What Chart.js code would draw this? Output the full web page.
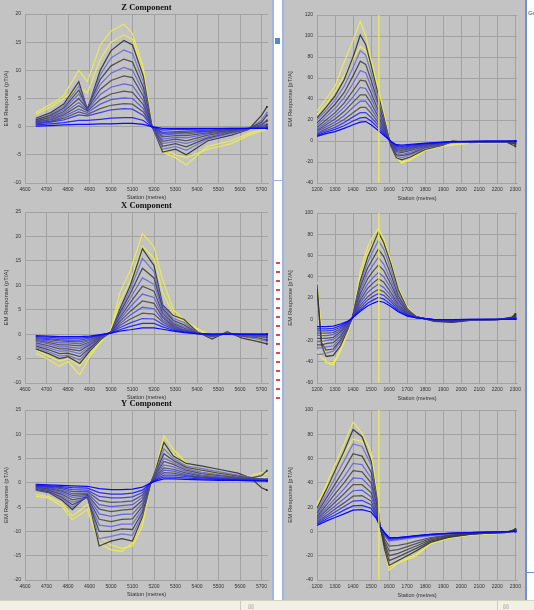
<!DOCTYPE html>
<html>
<head>
<meta charset="utf-8">
<script src="https://cdn.jsdelivr.net/npm/chart.js@4.4.1/dist/chart.umd.min.js"></script>
<style>
  html, body { margin:0; padding:0; }
  body { width:534px; height:610px; position:relative; overflow:hidden; background:#f3f1e4; font-family:"Liberation Sans", Arial, sans-serif; }
  .panel { position:absolute; background:#c3c3c3; }
  .chart { position:absolute; }
  .chart canvas { display:block; }
</style>
</head>
<body>
<div class="panel" style="left:0;top:0;width:272px;height:600px;"></div>
<div class="panel" style="left:284px;top:0;width:241px;height:600px;"></div>
<div style="position:absolute;left:272px;top:0;width:12px;height:600px;background:#ffffff;box-sizing:border-box;border-left:2px solid #9db6e2;border-right:2px solid #9db6e2;"></div>
<div style="position:absolute;left:275px;top:38px;width:5px;height:6px;background:#5a84cc;"></div>
<div style="position:absolute;left:274px;top:180px;width:8px;height:1px;background:#9db6e2;"></div>
<div style="position:absolute;left:276px;top:262px;width:4px;height:140px;background:repeating-linear-gradient(to bottom,#e04848 0px,#e04848 2px,transparent 2px,transparent 9px);"></div>
<div style="position:absolute;left:525px;top:0;width:9px;height:600px;background:#ffffff;box-sizing:border-box;border-left:2px solid #6f90d8;"></div>
<div style="position:absolute;left:527px;top:572px;width:7px;height:1px;background:#6f90d8;"></div>
<div style="position:absolute;left:528px;top:10px;font-size:6px;color:#444;">Gr</div>
<div style="position:absolute;left:0;top:600px;width:534px;height:10px;background:#f3f1e4;border-top:1px solid #d6d3c4;"></div>
<div style="position:absolute;left:240px;top:601px;width:1px;height:9px;background:#cfcabb;"></div>
<div style="position:absolute;left:497px;top:601px;width:1px;height:9px;background:#cfcabb;"></div>
<div style="position:absolute;left:248px;top:603px;font-size:5px;color:#555;">▯▯</div>
<div style="position:absolute;left:503px;top:603px;font-size:5px;color:#555;">▯▯</div>

<div class="chart" style="left:0;top:0;width:272px;height:202px"><canvas id="cz"></canvas></div>
<div class="chart" style="left:0;top:198px;width:272px;height:204px"><canvas id="cx"></canvas></div>
<div class="chart" style="left:0;top:396px;width:272px;height:203px"><canvas id="cy"></canvas></div>
<div class="chart" style="left:284px;top:0;width:241px;height:203px"><canvas id="r1"></canvas></div>
<div class="chart" style="left:284px;top:198px;width:241px;height:205px"><canvas id="r2"></canvas></div>
<div class="chart" style="left:284px;top:395px;width:241px;height:205px"><canvas id="r3"></canvas></div>

<script>
// ---------- tick labels ----------
const leftXTicks = [4600, 4700, 4800, 4900, 5000, 5100, 5200, 5300, 5400, 5500, 5600, 5700];
const rightXTicks = [1200, 1300, 1400, 1500, 1600, 1700, 1800, 1900, 2000, 2100, 2200, 2300];
const zYTicks = [20, 15, 10, 5, 0, -5, -10];
const xYTicks = [25, 20, 15, 10, 5, 0, -5, -10];
const yYTicks = [15, 10, 5, 0, -5, -10, -15, -20];
const r1YTicks = [120, 100, 80, 60, 40, 20, 0, -20, -40];
const r2YTicks = [100, 80, 60, 40, 20, 0, -20, -40, -60];
const r3YTicks = [100, 80, 60, 40, 20, 0, -20, -40];
const markerStation = 1543;

// ---------- Z component ----------
const zStations = [4650, 4720, 4780, 4850, 4890, 4950, 5000, 5060, 5100, 5150, 5190, 5240, 5300, 5350, 5450, 5560, 5640, 5700, 5725];
const zYellowOuter = [2.5, 4, 5.5, 10, 8, 14.5, 17, 18.2, 16.5, 10.5, 0.5, -4.5, -5.5, -6.8, -3.5, -2.5, -1.2, -0.5, -0.4];
const zYellowInner = [2.2, 3.5, 5, 7, 6, 12, 15, 16.3, 15.5, 9.5, 0.3, -4, -5, -5.5, -4, -3, -1.5, -0.8, -0.5];
const zFamily = [
  [1.5, 2.5, 4, 8, 3, 10, 13.5, 15.3, 14.5, 9, 0.2, -4.5, -4, -5, -2.5, -1.5, -0.5, 2, 3.5],
  [1.2, 2.2, 3.6, 7.2, 3.2, 9.2, 12.2, 13.6, 13, 8, 0.1, -4, -3.5, -4.2, -2.2, -1.2, -0.5, 1.2, 2.5],
  [1.2, 2, 3.3, 6.5, 3.2, 8.4, 10.8, 12, 11.5, 7, 0.1, -3.5, -3, -3.6, -2, -1, -0.4, 0.8, 2],
  [1, 1.8, 3, 5.8, 3.3, 7.5, 9.5, 10.5, 10, 6.2, 0, -3, -2.6, -3, -1.8, -0.9, -0.4, 0.5, 1.2],
  [1, 1.6, 2.7, 5, 3.2, 6.6, 8.2, 9, 8.7, 5.4, 0, -2.6, -2.2, -2.5, -1.5, -0.8, -0.3, 0.3, 1],
  [0.9, 1.4, 2.4, 4.3, 3, 5.7, 7, 7.6, 7.3, 4.6, 0, -2.2, -1.9, -2, -1.3, -0.7, -0.3, 0.2, 0.5],
  [0.8, 1.2, 2.1, 3.7, 2.8, 4.8, 5.8, 6.3, 6.1, 3.9, 0, -1.8, -1.6, -1.6, -1.1, -0.6, -0.3, 0, 0.3],
  [0.7, 1, 1.8, 3.1, 2.5, 4, 4.8, 5.1, 5, 3.2, 0, -1.5, -1.3, -1.3, -0.9, -0.5, -0.3, -0.1, 0],
  [0.6, 0.9, 1.5, 2.6, 2.2, 3.2, 3.8, 4.1, 4, 2.6, 0, -1.2, -1.1, -1, -0.8, -0.5, -0.3, -0.2, -0.1],
  [0.5, 0.8, 1.2, 2.1, 1.9, 2.5, 3, 3.2, 3.1, 2, 0, -1, -0.9, -0.8, -0.6, -0.4, -0.3, -0.3, -0.2],
  [0.3, 0.5, 0.7, 1.1, 1.1, 1.3, 1.5, 1.6, 1.6, 1.1, 0, -0.6, -0.5, -0.5, -0.4, -0.3, -0.3, -0.3, -0.3],
  [0.1, 0.2, 0.3, 0.4, 0.4, 0.5, 0.5, 0.6, 0.6, 0.4, 0, -0.3, -0.3, -0.3, -0.3, -0.3, -0.3, -0.3, -0.3]
];

// ---------- X component ----------
const xStations = [4650, 4710, 4760, 4800, 4855, 4900, 4950, 5000, 5040, 5090, 5146, 5200, 5240, 5290, 5340, 5400, 5470, 5540, 5610, 5680, 5725];
const xYellowOuter = [-3.9, -5.2, -6.6, -5.6, -8.3, -4.6, -1.8, 0.9, 8.4, 13.1, 20.6, 17.9, 11.1, 5, 2.9, 1.2, -0.5, 0.3, -0.5, -1.2, -0.5];
const xYellowInner = [-3.2, -4.5, -5.5, -5, -6.5, -4, -1.5, 1, 6.5, 11, 18, 15.5, 8.5, 4, 2.5, 1, -0.3, 0.2, -0.3, -0.8, -0.3];
const xFamily = [
  [-3, -4, -5, -4.6, -6, -3.5, -1.2, 0.5, 5, 10, 17.5, 14, 6, 3.8, 3, 0.5, -1, 0.5, -0.8, -1.5, -2],
  [-2.7, -3.6, -4.5, -4.3, -5.3, -3.2, -1, 0.5, 4.6, 9.2, 15.5, 12.8, 5.6, 3.2, 2.4, 0.4, -0.6, 0.3, -0.5, -1, -1.5],
  [-2.4, -3.2, -4, -3.9, -4.6, -2.9, -0.9, 0.5, 4.2, 8.3, 13.5, 11.5, 5.2, 2.8, 1.9, 0.3, -0.5, 0.2, -0.4, -0.7, -1.2],
  [-2.1, -2.8, -3.5, -3.4, -4, -2.6, -0.8, 0.5, 3.8, 7.4, 11.5, 10.2, 4.8, 2.4, 1.5, 0.3, -0.4, 0.1, -0.3, -0.5, -0.8],
  [-1.8, -2.4, -3, -3, -3.4, -2.2, -0.7, 0.5, 3.3, 6.5, 9.8, 8.8, 4.3, 2.1, 1.2, 0.2, -0.3, 0.1, -0.2, -0.4, -0.6],
  [-1.5, -2, -2.6, -2.6, -2.9, -1.9, -0.6, 0.4, 2.9, 5.6, 8.2, 7.5, 3.8, 1.8, 1, 0.2, -0.2, 0, -0.2, -0.3, -0.4],
  [-1.3, -1.7, -2.2, -2.2, -2.4, -1.6, -0.5, 0.4, 2.5, 4.7, 6.8, 6.3, 3.4, 1.6, 0.8, 0.2, -0.2, 0, -0.1, -0.2, -0.3],
  [-1.1, -1.4, -1.8, -1.8, -2, -1.3, -0.4, 0.3, 2.1, 3.9, 5.5, 5.2, 2.9, 1.4, 0.7, 0.1, -0.1, 0, -0.1, -0.2, -0.2],
  [-0.9, -1.1, -1.4, -1.5, -1.6, -1.1, -0.3, 0.3, 1.7, 3.1, 4.3, 4.1, 2.5, 1.2, 0.6, 0.1, -0.1, 0, -0.1, -0.1, -0.1],
  [-0.7, -0.9, -1.1, -1.2, -1.2, -0.8, -0.2, 0.3, 1.3, 2.3, 3.2, 3.1, 2, 1, 0.5, 0.1, -0.1, 0, 0, -0.1, -0.1],
  [-0.5, -0.6, -0.8, -0.8, -0.8, -0.6, -0.2, 0.2, 0.9, 1.6, 2.2, 2.2, 1.5, 0.8, 0.4, 0.1, 0, 0, 0, 0, 0],
  [-0.3, -0.4, -0.5, -0.5, -0.5, -0.4, -0.1, 0.2, 0.6, 0.9, 1.3, 1.3, 1, 0.6, 0.3, 0.1, 0, 0, 0, 0, 0]
];

// ---------- Y component ----------
const yStations = [4650, 4710, 4770, 4820, 4890, 4945, 5000, 5050, 5100, 5146, 5185, 5210, 5246, 5290, 5350, 5420, 5500, 5590, 5650, 5700, 5725];
const yYellowOuter = [-2.8, -3.1, -4.8, -7.6, -5.5, -12.4, -13.8, -14.1, -12.4, -7.6, 0, 3.4, 9.7, 6.9, 4.1, 2.4, 2.1, 1, 1.5, 2.1, 1.7];
const yYellowInner = [-2.4, -2.8, -4.2, -6.8, -4.5, -11, -12.8, -13.5, -13, -9, 0, 2.8, 8, 6, 3.5, 2.5, 1.8, 1.2, 0.8, 1.2, 1];
const yFamily = [
  [-1.5, -2, -3.5, -5.5, -2.5, -13, -12, -11.5, -12, -7, 0, 3, 8.3, 5.5, 4, 3.5, 2.8, 2, 1, -1, -1.5],
  [-1.4, -1.9, -3.2, -5, -2.8, -11.5, -11, -10.5, -10.8, -6.5, 0, 2.6, 7, 5, 3.5, 3, 2.3, 1.6, 1.2, 0.5, 0.5],
  [-1.3, -1.8, -2.9, -4.5, -3, -10, -10, -9.5, -9.6, -6, 0, 2.3, 6, 4.6, 3.2, 2.6, 2, 1.4, 1, 1.5, 2.5],
  [-1.2, -1.6, -2.6, -4, -3, -8.7, -9, -8.5, -8.5, -5.4, 0, 2, 5.1, 4.2, 2.9, 2.2, 1.7, 1.2, 0.9, 0.8, 0.8],
  [-1.1, -1.5, -2.3, -3.5, -2.9, -7.5, -8, -7.5, -7.4, -4.8, 0, 1.8, 4.4, 3.8, 2.6, 1.9, 1.5, 1.1, 0.8, 0.8, 0.7],
  [-1, -1.3, -2, -3, -2.7, -6.4, -6.9, -6.5, -6.4, -4.2, 0, 1.6, 3.7, 3.3, 2.3, 1.6, 1.3, 1, 0.7, 0.7, 0.7],
  [-0.9, -1.2, -1.7, -2.6, -2.4, -5.4, -5.9, -5.6, -5.4, -3.6, 0, 1.4, 3.1, 2.8, 2, 1.4, 1.1, 0.9, 0.7, 0.6, 0.6],
  [-0.8, -1, -1.5, -2.2, -2.1, -4.5, -4.9, -4.7, -4.5, -3, 0, 1.2, 2.6, 2.4, 1.7, 1.2, 1, 0.8, 0.6, 0.6, 0.6],
  [-0.7, -0.9, -1.2, -1.8, -1.8, -3.6, -4, -3.9, -3.7, -2.5, 0, 1, 2.1, 2, 1.5, 1.1, 0.9, 0.7, 0.6, 0.5, 0.5],
  [-0.6, -0.7, -1, -1.4, -1.5, -2.8, -3.1, -3.1, -2.9, -2, 0, 0.8, 1.6, 1.6, 1.3, 1, 0.8, 0.6, 0.5, 0.5, 0.5],
  [-0.5, -0.6, -0.8, -1, -1.1, -2, -2.3, -2.3, -2.1, -1.5, 0, 0.6, 1.2, 1.2, 1, 0.8, 0.7, 0.6, 0.5, 0.4, 0.4],
  [-0.3, -0.4, -0.5, -0.6, -0.7, -1.2, -1.4, -1.4, -1.3, -0.9, 0, 0.4, 0.8, 0.8, 0.7, 0.6, 0.5, 0.5, 0.4, 0.4, 0.4]
];

// ---------- right top ----------
const r1Stations = [1200, 1250, 1300, 1350, 1400, 1440, 1470, 1500, 1540, 1580, 1610, 1640, 1670, 1720, 1800, 1900, 1950, 2050, 2150, 2250, 2300];
const r1YellowOuter = [28.6, 40, 52, 75, 96, 114, 100, 78, 50, 20, -5, -16, -21, -18, -9, -5, -4, -2, -1.6, -1.6, -3];
const r1YellowInner = [25, 35, 47, 62, 78, 90, 86, 70, 45, 18, -4, -15, -20, -17, -8, -4.5, -3.5, -2, -1.5, -1.5, -2];
const r1Family = [
  [22, 32, 43, 58, 80, 101, 92, 72, 44, 16, -5, -16, -18, -15, -8, -4, 0, -1.5, -1, -1, -5],
  [20, 29, 39, 52, 70, 86, 82, 65, 40, 14, -5, -14, -16, -13, -7, -3.5, -1, -1.3, -1, -1, -2],
  [17, 26, 35, 46, 62, 76, 73, 58, 36, 13, -4, -13, -14, -12, -6, -3, -0.5, -1.2, -1, -1, -3],
  [15, 23, 31, 41, 55, 67, 65, 52, 33, 12, -3, -11, -13, -10.5, -5.5, -2.7, -1, -1, -0.8, -0.8, -1],
  [13, 20, 27, 36, 48, 58, 57, 46, 29, 11, -3, -10, -11, -9, -5, -2.4, -0.5, -1, -0.8, -0.8, -2],
  [11.5, 17.5, 24, 32, 42, 51, 50, 41, 26, 10, -2, -9, -10, -8, -4.5, -2.2, -1, -0.9, -0.7, -0.7, 0],
  [10, 15.5, 21, 28, 37, 44, 44, 36, 23, 9, -2, -8, -9, -7, -4, -2, -0.8, -0.8, -0.6, -0.6, -1],
  [9, 13.5, 18, 24, 32, 38, 38, 31, 20, 8, -1.5, -7, -8, -6.2, -3.6, -1.8, -1, -0.7, -0.5, -0.5, 0],
  [7.5, 11.5, 15.5, 20.5, 27, 32, 32, 26.5, 17.5, 7, -1, -6, -7, -5.5, -3.2, -1.6, -0.9, -0.6, -0.4, -0.4, 0],
  [6.5, 10, 13, 17.5, 23, 27, 27, 22.5, 15, 6, -1, -5, -6, -4.8, -2.8, -1.4, -0.8, -0.5, -0.3, -0.3, 0],
  [5.5, 8.5, 11, 14.5, 19, 22, 22.5, 19, 12.5, 5, -0.5, -4.2, -5, -4, -2.4, -1.2, -0.7, -0.4, -0.2, -0.2, 0],
  [4.5, 7, 9, 12, 15.5, 18, 18.5, 15.5, 10, 4, -0.5, -3.5, -4, -3.2, -2, -1, -0.6, -0.3, -0.2, -0.2, 0]
];

// ---------- right middle ----------
const r2Stations = [1200, 1225, 1250, 1290, 1330, 1370, 1395, 1440, 1480, 1510, 1540, 1570, 1610, 1650, 1700, 1750, 1850, 1950, 2050, 2200, 2280, 2300];
const r2YellowOuter = [35, -10, -41, -43, -30, -13, 1, 45, 68, 78, 85, 76, 55, 30, 12, 3, -1, -1.2, -0.6, -0.6, 1, 2.5];
const r2YellowInner = [-30, -36, -40, -41, -29, -12, 1, 40, 62, 72, 80, 70, 50, 26, 10, 2, -1, -1, -0.5, -0.5, 0.5, 1];
const r2Family = [
  [33, -24, -35, -34, -25, -10, 1, 36, 58, 70, 82, 72, 52, 28, 10, 2.5, -2, -3, -1, -0.5, 2, 5],
  [-33, -33, -32, -30, -22, -9, 1, 33, 53, 64, 74, 66, 47, 25, 9, 2.5, -1.5, -2, -0.8, -0.5, 1, 2],
  [28, -22, -29, -28, -20, -8, 1, 30, 48, 57, 66, 59, 42, 22, 8, 2.5, -1.5, -2.5, -0.8, -0.3, 1.5, 4],
  [-27, -27, -26, -25, -18, -7, 1, 27, 43, 51, 58, 52, 37, 20, 7, 2.2, -1, -1.5, -0.6, -0.3, 0.5, 1],
  [-24, -24, -23, -22, -16, -6, 1, 24, 38, 45, 51, 46, 33, 18, 6.5, 2, -1, -2, -0.6, -0.2, 1, 3],
  [-21, -21, -20, -19, -14, -5, 1, 21, 33, 39, 44, 40, 29, 16, 6, 2, -0.8, -1.2, -0.5, -0.2, 0.5, 1],
  [-18, -18, -18, -17, -12, -4.5, 1, 18, 29, 34, 38, 35, 25, 14, 5.5, 2, -0.8, -1.5, -0.5, -0.2, 0.8, 2],
  [-15, -15.5, -15.5, -14.5, -10.5, -4, 1, 15.5, 25, 29.5, 33, 30, 22, 12.5, 5, 1.8, -0.6, -1, -0.4, -0.1, 0.3, 0.5],
  [-13, -13, -13, -12.5, -9, -3.5, 1, 13, 21, 25, 28, 26, 19, 11, 4.5, 1.7, -0.5, -0.8, -0.3, -0.1, 0.3, 0.5],
  [-11, -11, -11, -10.5, -7.5, -3, 1, 11, 18, 21.5, 24, 22.5, 16.5, 9.5, 4, 1.6, -0.4, -0.6, -0.3, -0.1, 0.2, 0.5],
  [-9, -9, -9, -8.5, -6, -2.5, 1, 9, 15, 18, 20.5, 19, 14, 8, 3.5, 1.5, -0.3, -0.5, -0.2, 0, 0.2, 0.3],
  [-7, -7, -7, -6.5, -4.5, -2, 1, 7.5, 12.5, 15, 17, 16, 12, 7, 3, 1.4, -0.3, -0.4, -0.2, 0, 0.2, 0.3]
];

// ---------- right bottom ----------
const r3Stations = [1200, 1250, 1300, 1350, 1400, 1450, 1500, 1530, 1550, 1575, 1600, 1650, 1700, 1750, 1830, 1930, 2050, 2150, 2250, 2300];
const r3YellowOuter = [20.7, 38, 55, 72, 90, 81, 65, 35, 7, -15, -32, -26, -23, -20, -10, -5.5, -2.8, -2, -1.4, 2.8];
const r3YellowInner = [23, 36, 50, 64, 76, 74, 62, 33, 6, -12, -29, -26, -22, -19, -10, -5.5, -3, -2, -1.5, 0];
const r3Family = [
  [19, 34, 50, 66, 84, 78, 58, 30, 5, -15, -28, -24, -20, -16, -9, -5, -2.5, -1.5, -1, 2],
  [17, 30, 44, 58, 72, 70, 55, 28, 4, -4, -8, -7, -6, -5, -3.5, -2.2, -1.3, -0.8, -0.4, 0],
  [15, 27, 39, 51, 64, 62, 49, 26, 4, -12, -24, -21, -17.5, -14, -8, -4.5, -2.2, -1.3, -0.8, 1.5],
  [13.5, 24, 35, 45, 56, 55, 44, 24, 4, -3.5, -7.5, -6.5, -5.5, -4.5, -3.2, -2, -1.2, -0.7, -0.4, 0],
  [12, 21.5, 31, 40, 50, 49, 40, 22, 4, -10, -20, -18, -15, -12, -7, -4, -2, -1.2, -0.8, 1],
  [11, 19, 27, 35, 44, 43.5, 36, 20, 4, -3, -7, -6, -5, -4.2, -3, -1.9, -1.1, -0.6, -0.3, 0],
  [10, 17, 24, 31, 38.5, 38.5, 32, 18, 4, -8, -16, -15, -12.5, -10, -6, -3.5, -1.8, -1.1, -0.7, 0.8],
  [9, 15, 21, 27, 33.5, 34, 28.5, 16.5, 4, -2.5, -6.5, -5.8, -4.8, -4, -2.8, -1.8, -1, -0.6, -0.3, 0],
  [8, 13, 18.5, 23.5, 29, 29.5, 25, 15, 4, -6, -12, -11.5, -10, -8, -5, -3, -1.6, -1, -0.6, 0.5],
  [7, 11.5, 16, 20.5, 25, 25.5, 22, 13.5, 4, -2, -6, -5.5, -4.6, -3.8, -2.6, -1.7, -1, -0.5, -0.3, 0],
  [6, 10, 13.5, 17.5, 21, 21.5, 19, 12, 4, -1.5, -5.5, -5.2, -4.4, -3.6, -2.5, -1.6, -0.9, -0.5, -0.2, 0],
  [5, 8.5, 11.5, 14.5, 17.5, 18, 16, 10.5, 4, -1, -5, -5, -4.2, -3.4, -2.4, -1.5, -0.9, -0.5, -0.2, 0]
];

// ---------- styles ----------
const GRID = '#a2a2a2';
const TXT = '#333333';
const YELLOW = 'rgba(236,236,80,0.95)';
const FAM_COLORS = [
  'rgba(40,40,40,0.85)', 'rgba(105,105,215,0.85)', 'rgba(48,48,52,0.8)', 'rgba(95,95,220,0.85)',
  'rgba(55,55,62,0.8)', 'rgba(85,85,225,0.85)', 'rgba(58,58,70,0.8)', 'rgba(70,70,232,0.85)',
  'rgba(60,60,80,0.8)', 'rgba(50,50,240,0.9)', 'rgba(25,25,248,0.9)', 'rgba(0,0,255,0.95)'
];

function series(st, vals) { return st.map((s, i) => ({ x: s, y: vals[i] })); }

function makeChart(id, p) {
  const n = p.stations.length;
  const ds = [];
  if (p.marker != null) {
    ds.push({ label: 'marker', data: [{ x: p.marker, y: p.yTicks[p.yTicks.length - 1] }, { x: p.marker, y: p.yTicks[0] }],
      borderColor: YELLOW, borderWidth: 1.4, pointRadius: 0 });
  }
  for (let i = p.family.length - 1; i >= 0; i--) {
    ds.push({ label: 'ch' + (i + 1), data: series(p.stations, p.family[i]),
      borderColor: FAM_COLORS[i], backgroundColor: FAM_COLORS[i], borderWidth: 1.25,
      pointRadius: c => (c.dataIndex === n - 1 ? 1.3 : 0), pointStyle: 'rect', pointBorderWidth: 0 });
  }
  ds.push({ label: 'y2', data: series(p.stations, p.yellowInner), borderColor: YELLOW, borderWidth: 1.2, pointRadius: 0 });
  ds.push({ label: 'y1', data: series(p.stations, p.yellowOuter), borderColor: YELLOW, borderWidth: 1.2, pointRadius: 0 });

  new Chart(document.getElementById(id), {
    type: 'line',
    data: { datasets: ds },
    options: {
      responsive: true, maintainAspectRatio: false, animation: false,
      layout: { padding: { top: p.padTop, right: p.padRight, left: 0, bottom: 0 } },
      elements: { line: { tension: 0 } },
      plugins: {
        legend: { display: false }, tooltip: { enabled: false },
        title: { display: !!p.title, text: p.title || '', fullSize: false, color: '#111',
          font: { family: 'Liberation Serif', size: 8.5, weight: 'bold' }, padding: { top: 3, bottom: 0.8 } }
      },
      scales: {
        x: {
          type: 'linear', min: p.xMin, max: p.xMax,
          afterBuildTicks: s => { s.ticks = p.xTicks.map(v => ({ value: v })); },
          afterFit: s => { s.height = p.xH; },
          grid: { color: GRID, drawTicks: false }, border: { color: GRID },
          ticks: { autoSkip: false, maxRotation: 0, padding: 4, color: TXT,
            font: { size: 5, family: 'Liberation Sans' }, callback: v => String(v) },
          title: { display: true, text: 'Station (metres)', color: TXT,
            font: { size: 5.5, family: 'Liberation Sans' }, padding: { top: 0, bottom: 1 } }
        },
        y: {
          type: 'linear', min: p.yTicks[p.yTicks.length - 1], max: p.yTicks[0],
          afterBuildTicks: s => { s.ticks = p.yTicks.slice().reverse().map(v => ({ value: v })); },
          afterFit: s => { s.width = p.yW; },
          grid: { color: GRID, drawTicks: false }, border: { color: GRID },
          ticks: { autoSkip: false, padding: 4, color: TXT,
            font: { size: 5, family: 'Liberation Sans' }, callback: v => String(v) },
          title: { display: true, text: p.yTitle, color: TXT,
            font: { size: 6, family: 'Liberation Sans' }, padding: { top: 3, bottom: 0 } }
        }
      }
    }
  });
}

const leftBase = { xMin: 4600, xMax: 5730, xTicks: leftXTicks, xH: 19, yW: 25, padTop: 0, padRight: 3, yTitle: 'EM Response (pT/A)' };
const rightBase = { xMin: 1200, xMax: 2310, xTicks: rightXTicks, xH: 20, yW: 33, padTop: 15, padRight: 6, yTitle: 'EM Response [pT/A]', marker: markerStation };

makeChart('cz', Object.assign({}, leftBase, { title: 'Z Component', stations: zStations, yellowOuter: zYellowOuter, yellowInner: zYellowInner, family: zFamily, yTicks: zYTicks }));
makeChart('cx', Object.assign({}, leftBase, { title: 'X Component', stations: xStations, yellowOuter: xYellowOuter, yellowInner: xYellowInner, family: xFamily, yTicks: xYTicks }));
makeChart('cy', Object.assign({}, leftBase, { title: 'Y Component', stations: yStations, yellowOuter: yYellowOuter, yellowInner: yYellowInner, family: yFamily, yTicks: yYTicks }));
makeChart('r1', Object.assign({}, rightBase, { stations: r1Stations, yellowOuter: r1YellowOuter, yellowInner: r1YellowInner, family: r1Family, yTicks: r1YTicks }));
makeChart('r2', Object.assign({}, rightBase, { stations: r2Stations, yellowOuter: r2YellowOuter, yellowInner: r2YellowInner, family: r2Family, yTicks: r2YTicks }));
makeChart('r3', Object.assign({}, rightBase, { stations: r3Stations, yellowOuter: r3YellowOuter, yellowInner: r3YellowInner, family: r3Family, yTicks: r3YTicks }));
</script>
</body>
</html>
